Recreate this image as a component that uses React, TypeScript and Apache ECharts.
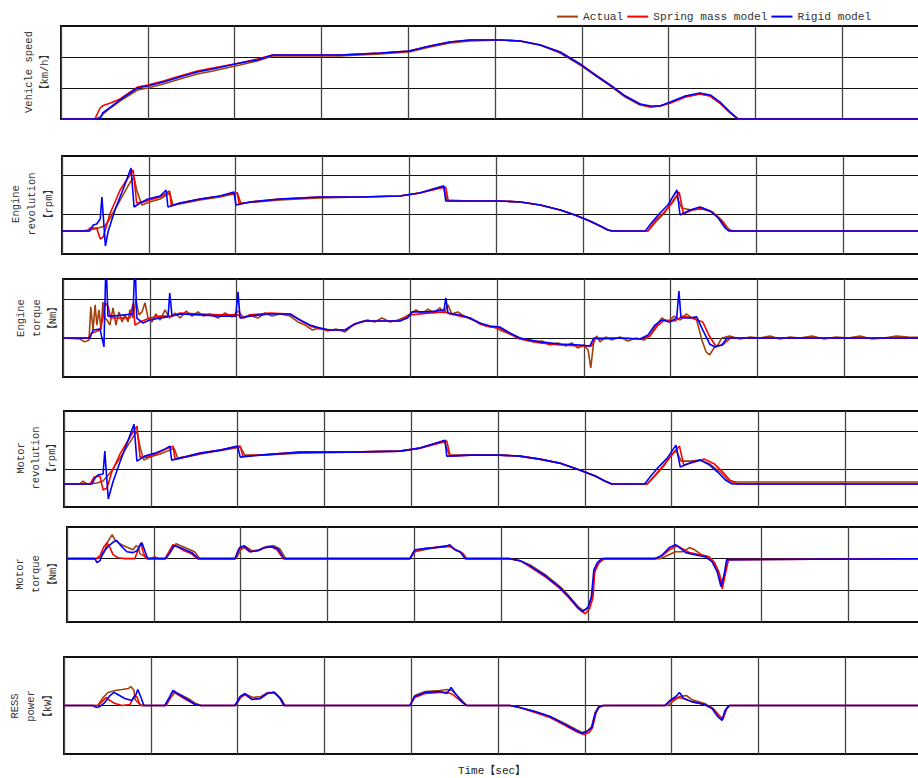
import React, { useEffect, useRef } from "react";
import * as echarts from "echarts";

const SERIES_NAMES = ["Actual", "Spring mass model", "Rigid model"];
const COLORS = ["#A0400A", "#FF0000", "#0000FF"];
const PANEL_TITLES = [
  "Vehicle speed\n【km/h】",
  "Engine\nrevolution\n【rpm】",
  "Engine\ntorque\n【Nm】",
  "Motor\nrevolution\n【rpm】",
  "Motor\ntorque\n【Nm】",
  "RESS\npower\n【kW】",
];
const X_TITLE = "Time【sec】";

// ---- Vehicle speed [km/h] (shared time base, sec)
const speedTime = [0, 39, 45, 48, 57, 68, 88, 100, 118, 137, 157, 175, 206, 226, 244, 321, 368, 401, 425, 448, 471, 506, 529, 552, 575, 598, 615, 633, 650, 667, 679, 690, 702, 719, 736, 748, 759, 771, 780, 1000];
const speedActual = [0, 0, 1.3, 3, 7.1, 11.6, 18.7, 20, 22.6, 25.8, 29, 31, 34.8, 37.4, 40.6, 40.6, 41.9, 43.2, 46.4, 49, 50.3, 51, 50.3, 47.7, 42.6, 34.8, 28.4, 21.3, 14.2, 9, 7.7, 8.4, 10.3, 14.2, 16.1, 14.8, 10.3, 3.9, 0, 0];
const speedSpring = [0, 0, 7.1, 8.5, 10.3, 12.9, 20.6, 21.9, 24.5, 27.7, 31, 32.9, 36.1, 38.7, 41.3, 41.3, 42.6, 43.9, 47.1, 49.7, 51, 51, 50.3, 47.7, 43.2, 35.5, 29, 21.9, 14.8, 9.7, 7.7, 8.4, 10.3, 14.2, 16.1, 14.8, 10.3, 3.9, 0, 0];
const speedRigid = [0, 0, 0, 3.9, 7.7, 12.3, 20, 21.3, 23.9, 27.1, 30.3, 32.3, 36.1, 38.1, 41.3, 41.3, 42.6, 43.9, 47.1, 49.7, 51, 51, 50.3, 47.7, 43.2, 35.5, 28.4, 21.9, 14.8, 9.7, 8.4, 8.4, 11, 14.8, 16.8, 15.5, 11, 4.5, 0, 0];

// ---- Engine revolution [rpm] : [time, value]
const engRevActual = [[0,582],[23,582],[30,607],[38,633],[49.5,708],[55.6,911],[67,1366],[78,1796],[83,1948],[86,1619],[92,1240],[101,1316],[113,1392],[124,1543],[128,1240],[142,1290],[159,1366],[182,1442],[202,1543],[206,1290],[224,1316],[251,1366],[297,1417],[343,1442],[389,1467],[412,1543],[439,1720],[443.5,1366],[470,1341],[505,1341],[528,1316],[551,1240],[574,1113],[591,987],[608,835],[620,708],[629,607],[634,582],[675,582],[684,810],[694,1037],[701,1265],[708,1467],[714,1164],[725,1113],[737,1139],[749.5,1063],[760,860],[768,633],[772,582],[1000,582]];
const engRevSpring = [[0,582],[30,582],[32,658],[40,658],[44,380],[47.5,430],[55.6,1037],[67,1619],[82,2125],[86,1290],[94,1316],[101,1366],[113,1442],[124,1594],[126,1214],[136,1290],[159,1392],[182,1467],[202,1543],[204,1265],[217,1316],[251,1392],[297,1442],[343,1442],[389,1467],[412,1543],[442,1695],[445,1341],[470,1341],[505,1341],[528,1316],[551,1240],[574,1113],[591,987],[608,835],[620,708],[629,607],[634,582],[675,582],[684,860],[694,1063],[703,1290],[711,1569],[716,1012],[726,1113],[738,1164],[749.5,1063],[759,860],[766,633],[771,582],[1000,582]];
const engRevRigid = [[0,582],[32,582],[36,734],[40,759],[44,886],[46,1442],[50,202],[53,557],[61,1113],[71,1670],[79.5,2176],[83,1189],[90,1290],[99,1392],[113,1467],[120,1619],[122,1189],[136,1290],[159,1392],[182,1467],[198,1569],[200.5,1240],[217,1316],[251,1392],[297,1442],[343,1442],[389,1467],[412,1543],[440,1720],[442,1341],[470,1341],[505,1341],[528,1316],[551,1240],[574,1113],[591,987],[608,835],[620,708],[629,607],[634,582],[672,582],[680,810],[689,1037],[698,1240],[708.5,1619],[712,987],[723.5,1113],[735,1189],[746.5,1088],[756,911],[764,658],[768,582],[1000,582]];

// ---- Engine torque [Nm]
const engTqActual = [[0,0],[19.6,-2.6],[25,-10],[30,-5],[32,79.5],[34.6,20.5],[37,84.6],[39,33],[41.5,72],[43.8,20.5],[46,92],[48.4,51],[50.7,46],[54,33],[57.6,77],[61,33],[64.5,66.7],[68,41],[71.4,59],[75,41],[77,72],[80.6,51],[84,97],[87.6,59],[91,66.7],[94.5,90],[98,51],[102.5,41],[107,61.5],[112,46],[117.5,72],[123,51],[129,64],[135,51],[142,69],[148.6,56],[155.5,66.7],[162,56],[169,61.5],[178.6,51],[186.6,64],[194.7,54],[201.6,69],[208.5,51],[215,59],[224.6,51],[232.7,64],[240.8,56],[250,61.5],[261.5,56],[270.7,41],[278.8,33],[287,20.5],[296,25.6],[305,18],[314.5,23],[325,15.4],[333,30.8],[342,41],[351,46],[359,41],[367.5,51],[376.7,41],[386,46],[394,54],[400,61.5],[406.7,72],[413.6,61.5],[420.5,74],[427.5,64],[434,77],[439,64],[443.5,84.6],[448,61.5],[455,66.7],[462,56],[469,48.7],[478,41],[487,30.8],[496.5,28],[505.7,18],[515,10],[524,2.6],[533,-5],[542.5,-10],[551.8,-7.7],[561,-18],[570,-12.8],[579.5,-20.5],[586,-12.8],[593,-25.6],[600,-18],[605,-30.8],[608,-77],[611.7,-5],[615,5],[618.6,-10],[625.5,2.6],[632,-5],[641.7,2.6],[651,-7.7],[660,0],[669.5,-5],[676,5],[683,30.8],[690,51],[697,41],[704,56],[711,46],[718,61.5],[725,51],[730,46],[736,-5],[741,-36],[745,-43.6],[750,-25.6],[754.6,-18],[759,0],[768,5],[780,-2.6],[791.5,2.6],[803,0],[814.5,5],[826,-2.6],[837.5,2.6],[849,0],[863,5],[877,-2.6],[890.5,2.6],[904.6,0],[918,5],[932,-2.6],[946,0],[960,5],[973.7,2.6],[1000,0]];
const engTqSpring = [[0,0],[29,0],[33.4,12.8],[42.6,20.5],[46,51],[48.4,90],[51.8,82],[55,51],[65.7,51],[77,51],[80.6,87],[83,33],[88.7,41],[100,51],[112,56],[125.6,56],[135,64],[158,61.5],[181,59],[201.6,59],[206,51],[215,59],[238,64],[261.5,61.5],[273,46],[284.5,30.8],[296,23],[307.6,20.5],[325,20.5],[336,36],[348,43.6],[388,43.6],[400,59],[423,64],[441,66.7],[446,61.5],[457,56],[469,51],[480,36],[492,28],[503,25.6],[515,10],[526,-2.6],[549.5,-12.8],[572.5,-18],[595.6,-20.5],[609,-20.5],[614,0],[641.7,0],[664.7,-2.6],[676,5],[685,31],[693,46],[705,43.6],[714,56],[725,51],[737,41],[744,7.7],[752,-20.5],[760,-18],[769,0],[1000,0]];
const engTqRigid = [[0,0],[31,0],[34.6,20.5],[42.6,23],[47.2,-23],[49.5,200],[51.8,56],[56.4,56],[80.6,61.5],[83,200],[85,51],[92,38.5],[100,46],[112,51],[121,54],[123,115],[125.6,56],[135,61.5],[158,59],[181,56],[199,56],[201.6,118],[204,51],[215,56],[238,61.5],[261.5,61.5],[273,46],[284.5,33],[296,25.6],[307.6,20.5],[325,20.5],[336,36],[348,43.6],[365,43.6],[388,43.6],[397,51],[402,66.7],[423,66.7],[439,72],[441,102.6],[443.5,64],[457,59],[469,51],[480,38.5],[492,30.8],[503,28],[515,12.8],[526,0],[549.5,-10],[572.5,-15.4],[595.6,-18],[607,-20.5],[611.7,0],[618.6,-2.6],[641.7,0],[664.7,-2.6],[674,7.7],[682,33],[690,46],[699,41],[707,51],[709.6,120],[712,51],[722,51],[730,54],[737,20.5],[745,-15.4],[751,-23],[759,-18],[765,0],[1000,0]];

// ---- Motor revolution [rpm]
const motRevActual = [[0,605],[18,605],[22,684],[26.5,605],[38,631],[45,684],[53,894],[64.5,1289],[76,1710],[84,1999],[87.6,1578],[92,1236],[99,1315],[110.6,1394],[122,1499],[126.7,1552],[131,1289],[145,1341],[162,1420],[182,1499],[203,1578],[208.5,1368],[226,1368],[272,1420],[329.5,1447],[387,1473],[410,1552],[438,1736],[444,1368],[468,1368],[502,1368],[525,1341],[548,1262],[571,1157],[594,973],[612,815],[623,684],[631,605],[672,605],[682,842],[691,1078],[698,1315],[705,1499],[711,1210],[721,1210],[733,1236],[744,1131],[756,921],[765,710],[774,658],[1000,658]];
const motRevSpring = [[0,605],[30,605],[34.6,789],[41.5,815],[45,447],[49.5,500],[55,921],[64.5,1394],[76,1841],[84,2130],[87.6,1315],[97,1315],[108,1420],[120,1552],[125.6,1604],[128,1262],[143,1341],[157,1420],[180,1499],[203,1604],[206,1341],[226,1368],[272,1447],[329.5,1447],[387,1473],[410,1552],[441,1736],[445,1341],[468,1368],[502,1368],[525,1341],[548,1262],[571,1157],[594,973],[612,815],[623,684],[631,605],[672,605],[682,868],[691,1105],[700,1368],[709,1604],[714,1105],[726,1184],[738,1262],[749.5,1131],[759,921],[768,684],[776,605],[1000,605]];
const motRevRigid = [[0,605],[32,605],[35.7,763],[39,842],[45,868],[47,1473],[51,210],[56.4,658],[64.5,1184],[74,1762],[80.6,2183],[84,1210],[93,1341],[105,1420],[116,1525],[122,1604],[124,1236],[139,1315],[157,1420],[180,1499],[200,1604],[203,1315],[226,1368],[272,1447],[329.5,1447],[387,1473],[410,1552],[439,1762],[441,1341],[468,1368],[502,1368],[525,1341],[548,1262],[571,1157],[594,973],[612,815],[623,684],[631,605],[669,605],[677,842],[686,1078],[695,1289],[705,1631],[710,1052],[721,1157],[733,1236],[744,1105],[753,921],[762,710],[770,605],[1000,605]];

// ---- Motor torque [Nm]
const motTqActual = [[0,0],[33.4,0],[38,3],[42.6,19],[47,54],[52,76],[55,60],[58.8,50.5],[63,44],[70,35],[76,28],[79.5,41],[82,38],[84,16],[90,6.3],[95.6,0],[101,6.3],[106,0],[114,0],[120,25],[125.6,47],[131,41],[139,31.6],[147,22],[153,0],[195,0],[200,28],[206,38],[213,25],[222,28],[230,38],[238,41],[245,31.6],[252,0],[395,0],[401,22],[412,28],[424,35],[435.5,41],[442,38],[449,25],[456,16],[461,0],[510,0],[522,-6.3],[533,-19],[551,-50.5],[568,-88],[579,-120],[589,-152],[595,-164],[601,-152],[605,-117],[608,-35],[613,-12.6],[619,0],[683,0],[691,9.5],[701,22],[710,22],[717,35],[723,28],[731,12.6],[740,6.3],[746,-12.6],[751,-41],[755,-82],[758,-44],[762,-3],[1000,0]];
const motTqSpring = [[0,0],[33.4,0],[38,9.5],[42.6,38],[46,50.5],[49.5,35],[53,12.6],[58.8,3],[67,0],[78,0],[83,35],[85,50.5],[87.6,22],[91,0],[113,0],[117.5,22],[122,44],[126.7,38],[135,25],[143,16],[150,0],[193.5,0],[198,31.6],[203,38],[210,22],[219,25],[227,35],[235,38],[242,28],[249,0],[395,0],[400,25],[411,31.6],[423,35],[434,38],[441,38],[448,28],[455,19],[460,0],[510,0],[522,-6.3],[533,-25],[551,-57],[568,-95],[579,-126],[589,-158],[597,-174],[602,-158],[606,-123],[608,-41],[613,-12.6],[619,0],[678,0],[687,12.6],[696,31.6],[703,41],[709,31.6],[717,19],[729,12.6],[738,6.3],[745,-9.5],[751,-47],[755,-95],[758,-54],[762,-3],[1000,0]];
const motTqRigid = [[0,0],[32,0],[34.6,-12.6],[38,-6.3],[41.5,19],[47,38],[54,54],[57.6,57],[62,41],[69,22],[76,19],[80.6,25],[84,41],[86.4,50.5],[90,22],[93,0],[113,0],[118.7,19],[123,41],[128,38],[136,28],[144,19],[151,0],[193.5,0],[199,35],[204,41],[211,22],[220,25],[228,35],[236,38],[243,31.6],[250,0],[395,0],[401,28],[412,31.6],[424,35],[435.5,38],[441,44],[447,28],[453,22],[458.5,0],[510,0],[522,-6.3],[533,-22],[551,-54],[568,-91.6],[579,-123],[589,-155],[594,-167],[600,-155],[604,-123],[607,-35],[611,-12.6],[616,0],[677,0],[685,9.5],[694,35],[701,44],[705.6,35],[713,19],[723,12.6],[735,6.3],[743,-9.5],[749,-41],[753.4,-88],[757,-50.5],[760,-3],[1000,0]];

// ---- RESS power [kW]
const ressActual = [[0,0],[39,0],[45,16.5],[50.7,26.8],[58.8,31],[67,33],[74,35],[77,39],[80.6,31],[82,12.4],[85,6],[90,0],[117.5,0],[123,16.5],[128,26.8],[133.6,22.7],[143,14.4],[152,4],[158,0],[198,0],[204,18.6],[209.7,22.7],[218,16.5],[227,18.6],[235,26.8],[243,26.8],[250,14.4],[254.6,0],[398.6,0],[404,20.6],[416,29],[433,31],[441,33],[447,31],[454,18.6],[459.6,8],[464,0],[514,0],[525,-4],[542.6,-12.4],[560,-22.7],[577,-37],[590,-49.5],[596.7,-55.7],[603.6,-51.6],[608,-43.3],[612,-14.4],[616,-2],[621,0],[696,0],[703,10.3],[709,18.6],[717,20.6],[723,12.4],[738,4],[748,-6],[755,-20.6],[759,-26.8],[763,-8],[767,0],[1000,0]];
const ressSpring = [[0,0],[39,0],[44,8],[48.4,16.5],[53,10.3],[58.8,4],[67,0],[76,2],[80.6,18.6],[84,18.6],[87.6,0],[117.5,0],[122,16.5],[125.6,29],[131,22.7],[140.5,12.4],[151,2],[157,0],[197,0],[203,16.5],[208.5,22.7],[216.6,12.4],[226,14.4],[234,24.7],[242,27],[249,14.4],[253.4,0],[398.6,0],[404,16.5],[416,24.7],[433,27],[442,27],[448,22.7],[456,10.3],[463,0],[514,0],[525,-4],[542.6,-14.4],[560,-24.7],[577,-41],[590,-53.6],[599,-59.8],[605,-55.7],[609,-45.4],[613,-14.4],[617,-2],[622,0],[693,0],[700,10.3],[707,16.5],[714,14.4],[723,8],[738,2],[748,-8],[755,-22.7],[759,-29],[763,-8],[767,0],[1000,0]];
const ressRigid = [[0,0],[33.4,0],[37,-4],[41.5,-2],[47,6],[53,20.6],[57.6,27],[62,22.7],[70,14.4],[78,10.3],[83,22.7],[85,33],[88.7,16.5],[92,0],[116,0],[122,18.6],[125.6,31],[131,24.7],[140.5,14.4],[151,2],[157,0],[197,0],[203,18.6],[208.5,24.7],[216.6,12.4],[226,14.4],[234,24.7],[242,27],[249,14.4],[253.4,0],[398.6,0],[404,18.6],[416,27],[433,29],[441,24.7],[446,37],[451.6,22.7],[458.5,8],[464,0],[514,0],[525,-4],[542.6,-12.4],[560,-22.7],[577,-39],[590,-51.6],[596.7,-57.7],[602.5,-53.6],[608,-45.4],[612,-16.5],[616,-4],[621,0],[692,0],[698,10.3],[705,18.6],[709,27],[714,14.4],[723,8],[738,2],[746.5,-6],[753,-22.7],[758,-31],[761.5,-10.3],[766,0],[1000,0]];

// axis ranges per panel: [min, max, interval]
const Y_RANGES = [
  [0, 60, 20],
  [0, 2480, 1000],
  [-100, 151, 100],
  [0, 2530, 1000],
  [-200, 100, 100],
  [-100, 100, 100],
];
const X_RANGE = [0, 1000, 100];

const zip = (t: number[], v: number[]) => t.map((x, i) => [x, v[i]]);

export default function App() {
  const ref = useRef<HTMLDivElement>(null);
  useEffect(() => {
    if (!ref.current) return;
    const chart = echarts.init(ref.current, undefined, { renderer: "svg" });
    const panelData = [
      [zip(speedTime, speedActual), zip(speedTime, speedSpring), zip(speedTime, speedRigid)],
      [engRevActual, engRevSpring, engRevRigid],
      [engTqActual, engTqSpring, engTqRigid],
      [motRevActual, motRevSpring, motRevRigid],
      [motTqActual, motTqSpring, motTqRigid],
      [ressActual, ressSpring, ressRigid],
    ];
    const layout = [
      { left: 61, top: 26, height: 93 },
      { left: 62, top: 156, height: 98 },
      { left: 63, top: 279, height: 98 },
      { left: 64, top: 411, height: 96 },
      { left: 67, top: 527, height: 95 },
      { left: 64, top: 657, height: 97 },
    ];
    const titlePos = [
      [37, 72, 16],
      [32, 204, 16.5],
      [37, 318, 16],
      [36, 458, 15.5],
      [36, 574, 16.5],
      [31, 706, 16.5],
    ];
    const monoFont = "'Liberation Mono', 'Noto Sans CJK JP', monospace";
    const grids = layout.map((g) => ({
      left: g.left,
      top: g.top,
      height: g.height,
      width: 868,
      outerBoundsMode: "none",
      containLabel: false,
      show: true,
      borderColor: "#111",
      borderWidth: 2,
      backgroundColor: "transparent",
    }));
    const xAxes = layout.map((_, i) => ({
      type: "value",
      gridIndex: i,
      min: X_RANGE[0],
      max: X_RANGE[1],
      interval: X_RANGE[2],
      axisLabel: { show: false },
      axisTick: { show: false },
      axisLine: { show: false },
      splitLine: { show: true, lineStyle: { color: "#444", width: 1.3 } },
    }));
    const yAxes = layout.map((_, i) => ({
      type: "value",
      gridIndex: i,
      min: Y_RANGES[i][0],
      max: Y_RANGES[i][1],
      interval: Y_RANGES[i][2],
      axisLabel: { show: false },
      axisTick: { show: false },
      axisLine: { show: false },
      splitLine: { show: true, lineStyle: { color: "#111", width: 1.2 } },
    }));
    const series: any[] = [];
    panelData.forEach((trio, i) => {
      trio.forEach((d, k) => {
        series.push({
          type: "line",
          name: SERIES_NAMES[k],
          xAxisIndex: i,
          yAxisIndex: i,
          data: d,
          showSymbol: false,
          symbol: "none",
          clip: true,
          color: COLORS[k],
          lineStyle: { color: COLORS[k], width: 1.6 },
          z: 2 + k,
        });
      });
    });
    const graphics: any[] = PANEL_TITLES.map((t, i) => ({
      type: "text",
      x: titlePos[i][0],
      y: titlePos[i][1],
      rotation: Math.PI / 2,
      style: {
        text: t,
        align: "center",
        verticalAlign: "middle",
        fontFamily: monoFont,
        fontSize: 10.5,
        lineHeight: titlePos[i][2],
        fill: "#333",
      },
    }));
    graphics.push({
      type: "text",
      x: 492,
      y: 771,
      style: {
        text: X_TITLE,
        align: "center",
        verticalAlign: "middle",
        fontFamily: monoFont,
        fontSize: 11,
        fill: "#222",
      },
    });
    chart.setOption({
      animation: false,
      backgroundColor: "#fff",
      grid: grids,
      xAxis: xAxes,
      yAxis: yAxes,
      legend: {
        data: SERIES_NAMES,
        left: 553,
        top: 7,
        icon: "rect",
        itemWidth: 21,
        itemHeight: 2,
        itemGap: 4,
        padding: [4, 4, 2, 4],
        backgroundColor: "#fff",
        z: 10,
        textStyle: { fontFamily: monoFont, fontSize: 11.2, color: "#333" },
      },
      graphic: graphics,
      series,
    });
    return () => chart.dispose();
  }, []);
  return (
    <div
      ref={ref}
      style={{ position: "absolute", left: 0, top: 0, width: 918, height: 778 }}
    />
  );
}
